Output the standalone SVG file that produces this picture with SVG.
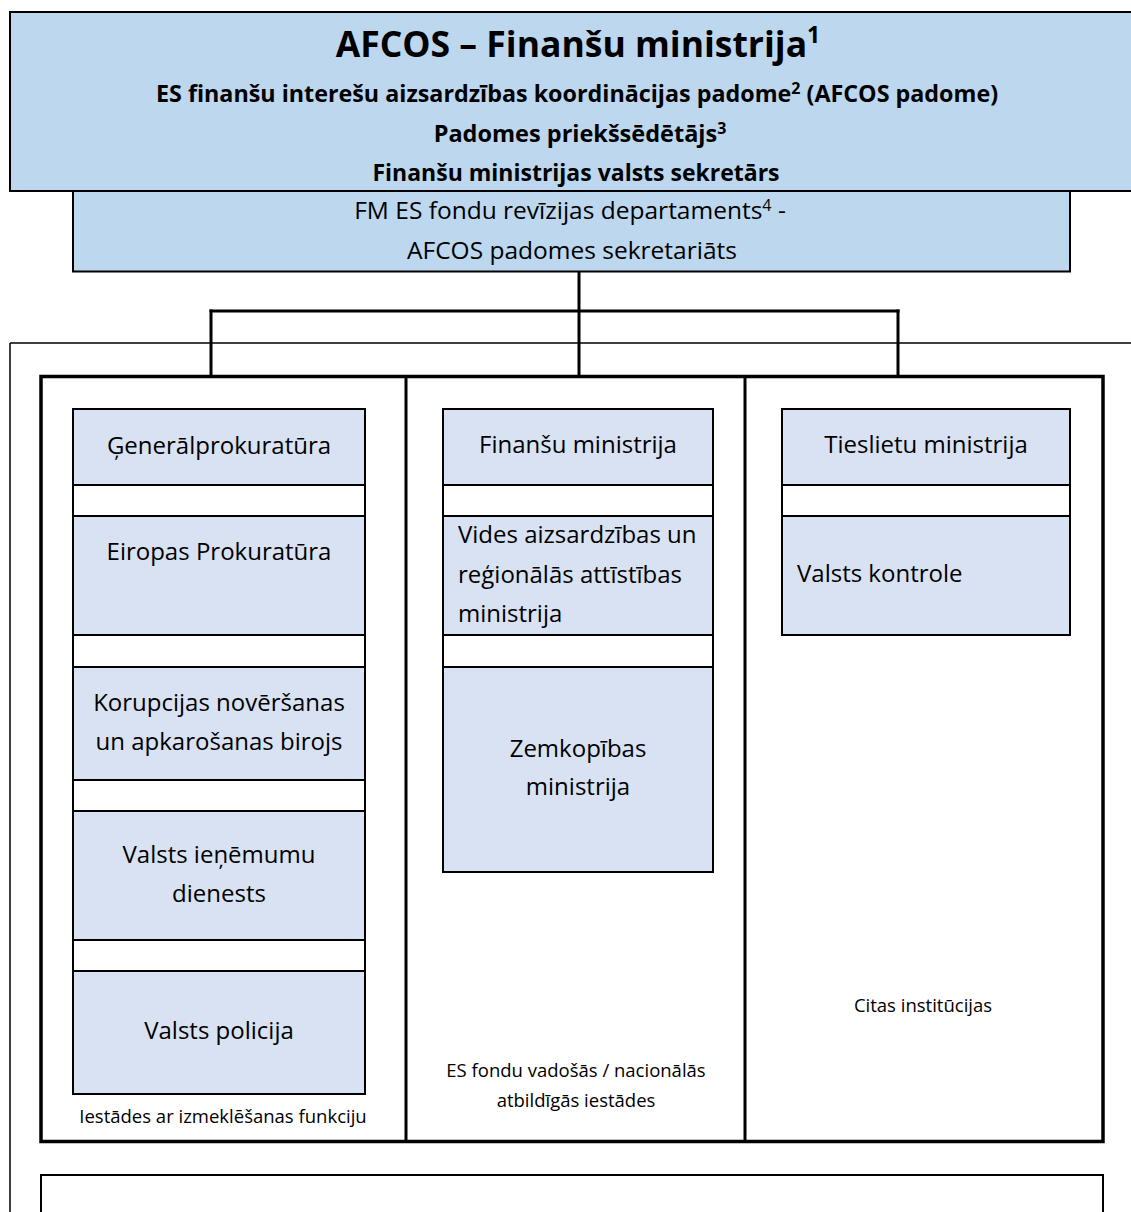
<svg xmlns="http://www.w3.org/2000/svg" width="1131" height="1212" viewBox="0 0 1131 1212">
<style>
.hdr{fill:#bdd7ee;stroke:#000;stroke-width:2}
.box{fill:#d9e2f3;stroke:#000;stroke-width:2}
.gap{fill:#fff;stroke:#000;stroke-width:2}
.t{font-family:"Open Sans","Noto Sans","Liberation Sans",sans-serif;fill:#000}
.b{font-weight:bold}
.m{text-anchor:middle}
.s{font-size:24px}
.sm{font-size:18.5px}
.ln{stroke:#000;fill:none}
</style>
<rect width="1131" height="1212" fill="#fff"/>

<g id="connectors">
<line class="ln" x1="10" y1="343" x2="1131" y2="343" stroke-width="1.5"/>
<line class="ln" x1="10" y1="343" x2="10" y2="1212" stroke-width="1.5"/>
<line class="ln" x1="579" y1="271" x2="579" y2="377" stroke-width="3"/>
<line class="ln" x1="209.5" y1="311" x2="899.5" y2="311" stroke-width="3"/>
<line class="ln" x1="211" y1="309.5" x2="211" y2="377" stroke-width="3"/>
<line class="ln" x1="898" y1="309.5" x2="898" y2="377" stroke-width="3"/>
</g>

<g id="afcos">
<rect class="hdr" x="10" y="12" width="1125" height="179"/>
<text class="t b m" x="578" y="57" font-size="35.5">AFCOS – Finanšu ministrija<tspan font-size="23" dy="-14">1</tspan></text>
<text class="t b m" x="577" y="102" font-size="23.3">ES finanšu interešu aizsardzības koordinācijas padome<tspan font-size="16" dy="-8">2</tspan><tspan dy="8"> (AFCOS padome)</tspan></text>
<text class="t b m" x="580" y="141.5" font-size="23.5">Padomes priekšsēdētājs<tspan font-size="16" dy="-8">3</tspan></text>
<text class="t b m" x="576" y="181" font-size="23">Finanšu ministrijas valsts sekretārs</text>
</g>

<g id="sekretariats">
<rect class="hdr" x="73" y="191" width="997" height="80.5"/>
<text class="t m" x="570" y="219" font-size="24.5">FM ES fondu revīzijas departaments<tspan font-size="16" dy="-8">4</tspan><tspan dy="8"> -</tspan></text>
<text class="t m" x="572" y="259" font-size="24.5">AFCOS padomes sekretariāts</text>
</g>

<g id="columns">
<rect x="41" y="376.5" width="1062" height="765" fill="none" stroke="#000" stroke-width="3.5"/>
<line class="ln" x1="406" y1="376.5" x2="406" y2="1141.5" stroke-width="3"/>
<line class="ln" x1="745" y1="376.5" x2="745" y2="1141.5" stroke-width="3"/>
</g>

<g id="col-izmeklesanas">
<rect class="box" x="73" y="409" width="292" height="76"/>
<rect class="gap" x="73" y="485" width="292" height="31"/>
<rect class="box" x="73" y="516" width="292" height="119"/>
<rect class="gap" x="73" y="635" width="292" height="32"/>
<rect class="box" x="73" y="667" width="292" height="113"/>
<rect class="gap" x="73" y="780" width="292" height="31"/>
<rect class="box" x="73" y="811" width="292" height="129"/>
<rect class="gap" x="73" y="940" width="292" height="31"/>
<rect class="box" x="73" y="971" width="292" height="123"/>
<text class="t s m" x="219" y="454">Ģenerālprokuratūra</text>
<text class="t s m" x="219" y="560">Eiropas Prokuratūra</text>
<text class="t s m" x="219" y="711">Korupcijas novēršanas</text>
<text class="t s m" x="219" y="750">un apkarošanas birojs</text>
<text class="t s m" x="219" y="863">Valsts ieņēmumu</text>
<text class="t s m" x="219" y="902">dienests</text>
<text class="t s m" x="219" y="1039">Valsts policija</text>
<text class="t sm m" x="223" y="1123">Iestādes ar izmeklēšanas funkciju</text>
</g>

<g id="col-vadosas">
<rect class="box" x="443" y="409" width="270" height="76"/>
<rect class="gap" x="443" y="485" width="270" height="31"/>
<rect class="box" x="443" y="516" width="270" height="119"/>
<rect class="gap" x="443" y="635" width="270" height="32"/>
<rect class="box" x="443" y="667" width="270" height="205"/>
<text class="t s m" x="578" y="453">Finanšu ministrija</text>
<text class="t s" x="458" y="543">Vides aizsardzības un</text>
<text class="t s" x="458" y="583">reģionālās attīstības</text>
<text class="t s" x="458" y="622">ministrija</text>
<text class="t s m" x="578" y="757">Zemkopības</text>
<text class="t s m" x="578" y="795">ministrija</text>
<text class="t sm m" x="576" y="1077">ES fondu vadošās / nacionālās</text>
<text class="t sm m" x="576" y="1107">atbildīgās iestādes</text>
</g>

<g id="col-citas">
<rect class="box" x="782" y="409" width="288" height="76"/>
<rect class="gap" x="782" y="485" width="288" height="31"/>
<rect class="box" x="782" y="516" width="288" height="119"/>
<text class="t s m" x="926" y="453">Tieslietu ministrija</text>
<text class="t s" x="797" y="582">Valsts kontrole</text>
<text class="t sm m" x="923" y="1012">Citas institūcijas</text>
</g>

<g id="bottom-box">
<rect x="41" y="1175" width="1062" height="45" fill="none" stroke="#000" stroke-width="2"/>
</g>
</svg>
